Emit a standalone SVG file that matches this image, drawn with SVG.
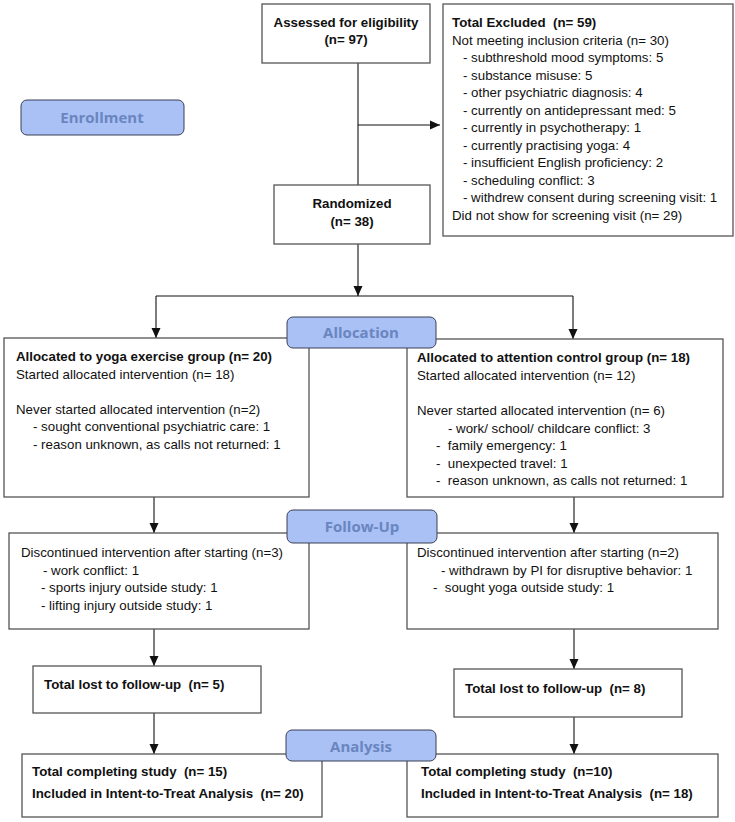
<svg xmlns="http://www.w3.org/2000/svg" width="735" height="822" viewBox="0 0 735 822" xml:space="preserve">
<style>
text{white-space:pre}
.box{fill:#fff;stroke:#555;stroke-width:1.3}
.pill{fill:#a9c1f5;stroke:#3a3f55;stroke-width:1}
.pt{font-family:"Open Sans","Noto Sans",sans-serif;font-weight:bold;font-size:15px;fill:#6a85bf;text-anchor:middle}
.t{font-family:"Liberation Sans",Arial,sans-serif;font-size:13.3px;fill:#111}
.b{font-weight:bold}
.c{text-anchor:middle}
.con{stroke:#111;stroke-width:1.1;fill:none}
</style>
<defs>
<marker id="ah" markerUnits="userSpaceOnUse" markerWidth="10" markerHeight="10" viewBox="0 0 10 10" refX="10" refY="5" orient="auto">
<path d="M0,0.5 L10,5 L0,9.5 z" fill="#111"/>
</marker>
</defs>
<rect width="735" height="822" fill="#fff"/>
<g id="connectors">
<line class="con" x1="358" y1="63" x2="358" y2="185"/>
<line class="con" x1="358" y1="125" x2="440" y2="125" marker-end="url(#ah)"/>
<line class="con" x1="358" y1="244" x2="358" y2="296" marker-end="url(#ah)"/>
<line class="con" x1="156" y1="296" x2="573" y2="296"/>
<line class="con" x1="156" y1="296" x2="156" y2="338" marker-end="url(#ah)"/>
<line class="con" x1="573" y1="296" x2="573" y2="339" marker-end="url(#ah)"/>
<line class="con" x1="154" y1="497" x2="154" y2="533" marker-end="url(#ah)"/>
<line class="con" x1="574" y1="497" x2="574" y2="533" marker-end="url(#ah)"/>
<line class="con" x1="154" y1="629" x2="154" y2="666" marker-end="url(#ah)"/>
<line class="con" x1="574" y1="629" x2="574" y2="669" marker-end="url(#ah)"/>
<line class="con" x1="154" y1="713" x2="154" y2="754" marker-end="url(#ah)"/>
<line class="con" x1="574" y1="717" x2="574" y2="754" marker-end="url(#ah)"/>
</g>
<g id="assessed">
<rect class="box" x="262" y="4" width="168" height="59"/>
<text class="t b c" x="346" y="27">Assessed for eligibility</text>
<text class="t b c" x="346" y="44">(n= 97)</text>
</g>
<g id="enrollment">
<rect class="pill" x="21" y="100" width="163" height="35" rx="6"/>
<text class="pt" x="102" y="123">Enrollment</text>
</g>
<g id="excluded">
<rect class="box" x="443" y="4" width="290" height="232"/>
<text class="t b" x="452" y="27">Total Excluded  (n= 59)</text>
<text class="t" x="452" y="44.5">Not meeting inclusion criteria (n= 30)</text>
<text class="t" x="463" y="62">- subthreshold mood symptoms: 5</text>
<text class="t" x="463" y="79.5">- substance misuse: 5</text>
<text class="t" x="463" y="97">- other psychiatric diagnosis: 4</text>
<text class="t" x="463" y="114.5">- currently on antidepressant med: 5</text>
<text class="t" x="463" y="132">- currently in psychotherapy: 1</text>
<text class="t" x="463" y="149.5">- currently practising yoga: 4</text>
<text class="t" x="463" y="167">- insufficient English proficiency: 2</text>
<text class="t" x="463" y="184.5">- scheduling conflict: 3</text>
<text class="t" x="463" y="202">- withdrew consent during screening visit: 1</text>
<text class="t" x="452" y="219.5">Did not show for screening visit (n= 29)</text>
</g>
<g id="randomized">
<rect class="box" x="274" y="185" width="156" height="59"/>
<text class="t b c" x="352" y="208">Randomized</text>
<text class="t b c" x="352" y="226">(n= 38)</text>
</g>
<g id="yoga-alloc">
<rect class="box" x="4" y="338" width="305" height="159"/>
<text class="t b" x="16" y="361">Allocated to yoga exercise group (n= 20)</text>
<text class="t" x="16" y="378.5">Started allocated intervention (n= 18)</text>
<text class="t" x="16" y="413.5">Never started allocated intervention (n=2)</text>
<text class="t" x="33" y="431">- sought conventional psychiatric care: 1</text>
<text class="t" x="33" y="448.5">- reason unknown, as calls not returned: 1</text>
</g>
<g id="control-alloc">
<rect class="box" x="407" y="339" width="316" height="158"/>
<text class="t b" x="417" y="362">Allocated to attention control group (n= 18)</text>
<text class="t" x="417" y="379.5">Started allocated intervention (n= 12)</text>
<text class="t" x="417" y="415">Never started allocated intervention (n= 6)</text>
<text class="t" x="448" y="432.5">- work/ school/ childcare conflict: 3</text>
<text class="t" x="436" y="450">-  family emergency: 1</text>
<text class="t" x="436" y="467.5">-  unexpected travel: 1</text>
<text class="t" x="436" y="485">-  reason unknown, as calls not returned: 1</text>
</g>
<g id="allocation">
<rect class="pill" x="287" y="317" width="149" height="31" rx="6"/>
<text class="pt" x="361" y="338">Allocation</text>
</g>
<g id="yoga-followup">
<rect class="box" x="9" y="533" width="300" height="96"/>
<text class="t" x="21" y="557">Discontinued intervention after starting (n=3)</text>
<text class="t" x="43" y="574.5">- work conflict: 1</text>
<text class="t" x="41" y="592">- sports injury outside study: 1</text>
<text class="t" x="41" y="609.5">- lifting injury outside study: 1</text>
</g>
<g id="control-followup">
<rect class="box" x="407" y="533" width="311" height="96"/>
<text class="t" x="417" y="557">Discontinued intervention after starting (n=2)</text>
<text class="t" x="441" y="574.5">- withdrawn by PI for disruptive behavior: 1</text>
<text class="t" x="433" y="592">-  sought yoga outside study: 1</text>
</g>
<g id="followup">
<rect class="pill" x="287" y="510" width="150" height="33" rx="6"/>
<text class="pt" x="362" y="532">Follow-Up</text>
</g>
<g id="yoga-lost">
<rect class="box" x="33" y="666" width="228" height="47"/>
<text class="t b" x="44" y="689">Total lost to follow-up  (n= 5)</text>
</g>
<g id="control-lost">
<rect class="box" x="454" y="669" width="228" height="48"/>
<text class="t b" x="465" y="693">Total lost to follow-up  (n= 8)</text>
</g>
<g id="yoga-analysis">
<rect class="box" x="22" y="754" width="300" height="63"/>
<text class="t b" x="32" y="776">Total completing study  (n= 15)</text>
<text class="t b" x="32" y="798">Included in Intent-to-Treat Analysis  (n= 20)</text>
</g>
<g id="control-analysis">
<rect class="box" x="407" y="754" width="311" height="63"/>
<text class="t b" x="421" y="776">Total completing study  (n=10)</text>
<text class="t b" x="421" y="798">Included in Intent-to-Treat Analysis  (n= 18)</text>
</g>
<g id="analysis">
<rect class="pill" x="286" y="730" width="150" height="31" rx="6"/>
<text class="pt" x="361" y="752">Analysis</text>
</g>
</svg>
